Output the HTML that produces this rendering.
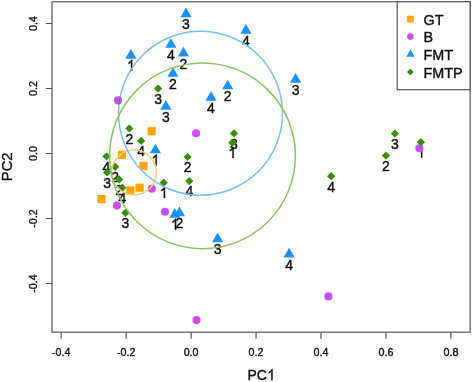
<!DOCTYPE html>
<html><head><meta charset="utf-8"><title>PCA plot</title>
<style>
html,body{margin:0;padding:0;background:#fff;}
body{width:472px;height:382px;overflow:hidden;font-family:"Liberation Sans",sans-serif;}
svg{display:block;will-change:transform;}
</style></head><body>
<svg width="472" height="382" viewBox="0 0 472 382" font-family='"Liberation Sans", sans-serif'><rect x="52" y="1.8" width="418.1" height="330.4" fill="none" stroke="#555555" stroke-width="1.2"/>
<path d="M61.2 332.2V338.8M126.15 332.2V338.8M191.1 332.2V338.8M256.05 332.2V338.8M321 332.2V338.8M385.95 332.2V338.8M450.9 332.2V338.8M45.8 23.5H52M45.8 88.5H52M45.8 153.5H52M45.8 218.5H52M45.8 283.5H52" stroke="#555555" stroke-width="1.2" fill="none"/>
<g font-size="10.7" fill="#111" stroke="#111" stroke-width="0.35"><text x="61.2" y="355.6" text-anchor="middle">-0.4</text><text x="126.15" y="355.6" text-anchor="middle">-0.2</text><text x="191.1" y="355.6" text-anchor="middle">0.0</text><text x="256.05" y="355.6" text-anchor="middle">0.2</text><text x="321" y="355.6" text-anchor="middle">0.4</text><text x="385.95" y="355.6" text-anchor="middle">0.6</text><text x="450.9" y="355.6" text-anchor="middle">0.8</text><text transform="translate(37.3 23.5) rotate(-90)" text-anchor="middle">0.4</text><text transform="translate(37.3 88.5) rotate(-90)" text-anchor="middle">0.2</text><text transform="translate(37.3 153.5) rotate(-90)" text-anchor="middle">0.0</text><text transform="translate(37.3 218.5) rotate(-90)" text-anchor="middle">-0.2</text><text transform="translate(37.3 283.5) rotate(-90)" text-anchor="middle">-0.4</text></g>
<g font-size="14" fill="#111" stroke="#111" stroke-width="0.4"><text transform="translate(247.4 380.2) scale(1 1.1)" text-anchor="start">PC</text><path d="M271.3 380.2L272.53 380.2L272.53 369.17L271.73 369.17Q271.09 370.73 268.83 372.02L268.83 373.33Q270.32 372.65 271.3 371.61Z"/><text transform="translate(11.9 166.8) rotate(-90)" text-anchor="middle" font-size="14.8">PC2</text></g>
<g font-size="14" fill="#111" stroke="#111" stroke-width="0.4"><text transform="translate(186 29.2) scale(1 1.1)" text-anchor="middle">3</text><text transform="translate(245.9 45.7) scale(1 1.1)" text-anchor="middle">4</text><text transform="translate(170.8 59.9) scale(1 1.1)" text-anchor="middle">4</text><text transform="translate(183.5 68.5) scale(1 1.1)" text-anchor="middle">2</text><path d="M131 70.8L132.23 70.8L132.23 59.77L131.43 59.77Q130.79 61.33 128.53 62.62L128.53 63.93Q130.02 63.25 131 62.21Z"/><text transform="translate(173 88.9) scale(1 1.1)" text-anchor="middle">2</text><text transform="translate(295.6 94.7) scale(1 1.1)" text-anchor="middle">3</text><text transform="translate(227.7 101.4) scale(1 1.1)" text-anchor="middle">2</text><text transform="translate(211 112.7) scale(1 1.1)" text-anchor="middle">4</text><text transform="translate(165.9 121.8) scale(1 1.1)" text-anchor="middle">3</text><path d="M155.5 165.4L156.73 165.4L156.73 154.37L155.93 154.37Q155.29 155.93 153.03 157.22L153.03 158.53Q154.52 157.85 155.5 156.81Z"/><path d="M174.9 229.7L176.13 229.7L176.13 218.67L175.33 218.67Q174.69 220.23 172.43 221.52L172.43 222.83Q173.92 222.15 174.9 221.11Z"/><text transform="translate(179.4 228.2) scale(1 1.1)" text-anchor="middle">2</text><text transform="translate(217.6 254.4) scale(1 1.1)" text-anchor="middle">3</text><text transform="translate(289.1 269.5) scale(1 1.1)" text-anchor="middle">4</text><text transform="translate(158.1 103.9) scale(1 1.1)" text-anchor="middle">3</text><text transform="translate(129.3 143.8) scale(1 1.1)" text-anchor="middle">2</text><text transform="translate(141.2 156.2) scale(1 1.1)" text-anchor="middle">4</text><text transform="translate(234 148.6) scale(1 1.1)" text-anchor="middle">3</text><path d="M232.4 158.1L233.63 158.1L233.63 147.07L232.83 147.07Q232.19 148.63 229.93 149.92L229.93 151.23Q231.42 150.55 232.4 149.51Z"/><text transform="translate(187.6 172.3) scale(1 1.1)" text-anchor="middle">2</text><path d="M163.8 198L165.03 198L165.03 186.97L164.23 186.97Q163.59 188.53 161.33 189.82L161.33 191.13Q162.82 190.45 163.8 189.41Z"/><text transform="translate(189.3 196.4) scale(1 1.1)" text-anchor="middle">4</text><text transform="translate(106.5 171.6) scale(1 1.1)" text-anchor="middle">4</text><text transform="translate(115.2 182.1) scale(1 1.1)" text-anchor="middle">2</text><text transform="translate(107.1 187.7) scale(1 1.1)" text-anchor="middle">3</text><text transform="translate(119.1 194.7) scale(1 1.1)" text-anchor="middle">2</text><text transform="translate(122.3 203.1) scale(1 1.1)" text-anchor="middle">4</text><text transform="translate(125.4 228.2) scale(1 1.1)" text-anchor="middle">3</text><text transform="translate(394.9 148.9) scale(1 1.1)" text-anchor="middle">3</text><path d="M421 157.5L422.23 157.5L422.23 146.47L421.43 146.47Q420.79 148.03 418.53 149.32L418.53 150.63Q420.02 149.95 421 148.91Z"/><text transform="translate(386 170.9) scale(1 1.1)" text-anchor="middle">2</text><text transform="translate(331.2 191.5) scale(1 1.1)" text-anchor="middle">4</text></g>
<rect x="147.5" y="127.1" width="8.2" height="8.2" fill="#FFA500"/>
<rect x="117.9" y="150.7" width="8.2" height="8.2" fill="#FFA500"/>
<rect x="139.4" y="161.8" width="8.2" height="8.2" fill="#FFA500"/>
<rect x="126.2" y="186.4" width="8.2" height="8.2" fill="#FFA500"/>
<rect x="135.5" y="183.6" width="8.2" height="8.2" fill="#FFA500"/>
<rect x="97.4" y="195" width="8.2" height="8.2" fill="#FFA500"/>
<circle cx="118" cy="100.4" r="4.05" fill="#C850EE"/>
<circle cx="196.1" cy="133.3" r="4.05" fill="#C850EE"/>
<circle cx="419.4" cy="148.2" r="4.05" fill="#C850EE"/>
<circle cx="151.8" cy="188.7" r="4.05" fill="#C850EE"/>
<circle cx="165" cy="211.7" r="4.05" fill="#C850EE"/>
<circle cx="116.9" cy="205.6" r="4.05" fill="#C850EE"/>
<circle cx="328.4" cy="296.4" r="4.05" fill="#C850EE"/>
<circle cx="196.5" cy="320.1" r="4.05" fill="#C850EE"/>
<polygon points="186,7.43 180.4,17.13 191.6,17.13" fill="#1E90FF"/>
<polygon points="245.9,23.93 240.3,33.63 251.5,33.63" fill="#1E90FF"/>
<polygon points="170.8,38.13 165.2,47.83 176.4,47.83" fill="#1E90FF"/>
<polygon points="183.5,46.73 177.9,56.43 189.1,56.43" fill="#1E90FF"/>
<polygon points="130.9,49.03 125.3,58.73 136.5,58.73" fill="#1E90FF"/>
<polygon points="173,67.13 167.4,76.83 178.6,76.83" fill="#1E90FF"/>
<polygon points="295.6,72.93 290,82.63 301.2,82.63" fill="#1E90FF"/>
<polygon points="227.7,79.63 222.1,89.33 233.3,89.33" fill="#1E90FF"/>
<polygon points="211,90.93 205.4,100.63 216.6,100.63" fill="#1E90FF"/>
<polygon points="165.9,100.03 160.3,109.73 171.5,109.73" fill="#1E90FF"/>
<polygon points="155.4,143.63 149.8,153.33 161,153.33" fill="#1E90FF"/>
<polygon points="174.8,207.93 169.2,217.63 180.4,217.63" fill="#1E90FF"/>
<polygon points="179.4,206.43 173.8,216.13 185,216.13" fill="#1E90FF"/>
<polygon points="217.6,232.63 212,242.33 223.2,242.33" fill="#1E90FF"/>
<polygon points="289.1,247.73 283.5,257.43 294.7,257.43" fill="#1E90FF"/>
<polygon points="154,88.6 158.1,84.5 162.2,88.6 158.1,92.7" fill="#3A8C02"/>
<polygon points="125.2,128.5 129.3,124.4 133.4,128.5 129.3,132.6" fill="#3A8C02"/>
<polygon points="137.1,140.9 141.2,136.8 145.3,140.9 141.2,145" fill="#3A8C02"/>
<polygon points="229.9,133.3 234,129.2 238.1,133.3 234,137.4" fill="#3A8C02"/>
<polygon points="228.2,142.8 232.3,138.7 236.4,142.8 232.3,146.9" fill="#3A8C02"/>
<polygon points="183.5,157 187.6,152.9 191.7,157 187.6,161.1" fill="#3A8C02"/>
<polygon points="159.6,182.7 163.7,178.6 167.8,182.7 163.7,186.8" fill="#3A8C02"/>
<polygon points="185.2,181.1 189.3,177 193.4,181.1 189.3,185.2" fill="#3A8C02"/>
<polygon points="102.4,156.3 106.5,152.2 110.6,156.3 106.5,160.4" fill="#3A8C02"/>
<polygon points="111.1,166.8 115.2,162.7 119.3,166.8 115.2,170.9" fill="#3A8C02"/>
<polygon points="103,172.4 107.1,168.3 111.2,172.4 107.1,176.5" fill="#3A8C02"/>
<polygon points="115,179.4 119.1,175.3 123.2,179.4 119.1,183.5" fill="#3A8C02"/>
<polygon points="118.2,187.8 122.3,183.7 126.4,187.8 122.3,191.9" fill="#3A8C02"/>
<polygon points="121.3,212.9 125.4,208.8 129.5,212.9 125.4,217" fill="#3A8C02"/>
<polygon points="390.8,133.6 394.9,129.5 399,133.6 394.9,137.7" fill="#3A8C02"/>
<polygon points="416.8,142.2 420.9,138.1 425,142.2 420.9,146.3" fill="#3A8C02"/>
<polygon points="381.9,155.6 386,151.5 390.1,155.6 386,159.7" fill="#3A8C02"/>
<polygon points="327.1,176.2 331.2,172.1 335.3,176.2 331.2,180.3" fill="#3A8C02"/>
<circle cx="134" cy="172.5" r="22.4" fill="none" stroke="#F8CB7C" stroke-width="1.5"/>
<circle cx="200.5" cy="113.3" r="82" fill="none" stroke="#7DBCF7" stroke-width="1.5"/>
<circle cx="202.5" cy="155.8" r="92.9" fill="none" stroke="#8CC266" stroke-width="1.5"/>
<clipPath id="pc"><circle cx="118" cy="100.4" r="4.05"/></clipPath><circle cx="200.5" cy="113.3" r="82" fill="none" stroke="#5f6878" stroke-width="1.4" clip-path="url(#pc)"/>
<rect x="397.2" y="1.8" width="72.9" height="87.9" fill="#fff" stroke="#555555" stroke-width="1.2"/><rect x="407.1" y="15.7" width="6.8" height="6.8" fill="#FFA500"/><circle cx="410.4" cy="36.6" r="3.3" fill="#C850EE"/><polygon points="410.5,49.53 406.29,56.83 414.71,56.83" fill="#1E90FF"/><polygon points="407.1,72 410.4,68.7 413.7,72 410.4,75.3" fill="#3A8C02"/><g font-size="14.4" fill="#111" stroke="#111" stroke-width="0.4"><text x="423.5" y="24.9" text-anchor="start">GT</text><text x="423.5" y="42.4" text-anchor="start">B</text><text x="423.5" y="59.9" text-anchor="start">FMT</text><text x="423.5" y="77.5" text-anchor="start">FMTP</text></g></svg>
</body></html>
